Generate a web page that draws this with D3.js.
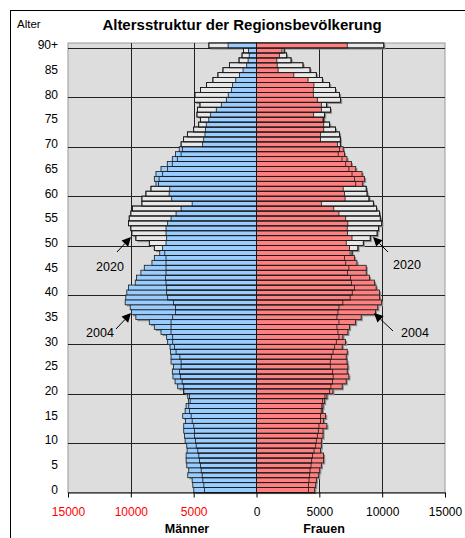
<!doctype html>
<html lang="de">
<head>
    <meta charset="utf-8">
    <title>Altersstruktur der Regionsbevölkerung</title>
    <script src="https://cdn.jsdelivr.net/npm/d3@7"></script>
    <style>
        body { margin: 0; background: #fff; }
        text { font-family: "Liberation Sans", Arial, sans-serif; }
    </style>
</head>
<body>
<script>
    // ages 0..89 and 90+ (stored as 90)
    var ages = d3.range(0, 91);

    // population per age
    var men2004 = [4990, 5070, 5120, 5470, 5390, 5550, 5600, 5600, 5520, 5550,
                   5680, 5730, 5790, 5790, 5650, 5870, 5680, 5600, 5410, 5470,
                   5790, 6270, 6480, 6650, 6700, 6600, 6800, 6800, 6850, 6880,
                   7070, 7150, 7600, 8130, 8530, 9600, 9950, 10050, 10450, 10400,
                   10320, 10190, 9650, 9550, 9200, 8930, 8320, 8130, 7700, 7470,
                   7200, 7150, 7200, 7200, 7070, 6800, 6400, 6000, 5120, 6750,
                   6950, 6900, 8000, 8130, 8000, 7600, 7100, 6700, 6450, 6150,
                   4300, 4200, 4100, 4050, 4000, 3800, 3650, 3200, 2800, 2400,
                   2250, 2000, 1900, 1650, 1350, 1070, 780, 670, 580, 640,
                   2260];
    var men2020 = [4130, 4190, 4270, 4320, 4400, 4450, 4530, 4590, 4670, 4800,
                   4850, 4930, 4930, 4990, 5120, 5200, 5330, 5390, 5280, 5330,
                   5790, 5790, 5920, 6050, 6130, 6000, 6000, 6100, 6400, 6530,
                   6670, 6670, 6800, 6800, 6800, 6670, 6450, 6450, 6600, 7070,
                   7150, 7150, 7200, 7250, 7200, 7200, 7200, 7200, 7300, 8130,
                   8530, 9600, 9920, 10000, 10190, 10130, 10000, 9870, 9120, 9120,
                   8800, 8400, 7800, 7750, 7470, 7070, 6700, 6300, 6000, 5900,
                   6000, 5800, 5500, 5000, 4600, 4450, 4740, 4700, 4500, 4930,
                   4900, 4450, 3970, 3470, 3070, 2670, 2150, 1390, 1150, 1040,
                   3790];
    var women2004 = [4630, 4710, 4760, 4950, 5030, 5160, 5340, 5340, 5100, 5160,
                     5160, 5290, 5290, 5600, 5340, 5500, 5240, 5290, 5420, 5600,
                     6080, 6820, 7140, 7350, 7220, 7270, 7200, 7140, 7220, 6820,
                     7090, 6870, 7270, 7400, 7880, 8330, 9470, 9650, 9950, 9790,
                     9790, 9520, 9390, 8990, 8730, 8730, 7990, 7800, 7450, 7400,
                     7140, 7600, 7250, 7220, 7270, 7100, 6560, 6150, 5160, 7050,
                     7000, 6900, 8450, 8600, 8400, 7900, 7550, 7200, 7000, 6900,
                     6450, 5100, 5100, 5350, 5350, 5290, 4550, 5160, 5160, 4840,
                     4520, 4520, 4570, 4100, 2970, 1720, 1650, 1620, 1820, 2030,
                     7220];
    var women2020 = [4130, 4130, 4180, 4230, 4260, 4340, 4390, 4450, 4580, 4710,
                     4760, 4840, 4920, 4970, 5100, 5100, 5150, 5200, 5260, 5450,
                     5800, 5920, 6060, 6100, 6060, 5870, 5870, 5950, 6090, 6220,
                     6350, 6560, 6480, 6400, 6560, 6400, 6480, 6560, 6870, 7450,
                     7620, 7800, 7550, 7490, 7250, 7350, 7100, 7000, 7600, 8070,
                     8500, 9050, 9600, 9700, 9970, 9850, 9780, 9550, 9300, 8950,
                     8800, 8730, 7900, 7800, 7600, 7350, 7100, 6800, 6500, 6600,
                     6670, 6670, 6610, 6290, 5820, 5350, 5420, 5880, 5580, 6690,
                     6610, 6280, 5820, 5240, 4760, 4260, 3700, 2750, 2400, 2200,
                     10130];

    var xTicks = [-15000, -10000, -5000, 0, 5000, 10000, 15000];
    var ageTicks = [0, 5, 10, 15, 20, 25, 30, 35, 40, 45, 50, 55, 60, 65, 70, 75, 80, 85, 90];

    var svgWidth = 465, svgHeight = 538;
    var plotLeft = 68, plotRight = 445, plotTop = 43, plotBottom = 492.5;

    var svg = d3.select("body").append("svg")
        .attr("width", svgWidth)
        .attr("height", svgHeight);

    // outer chart frame (cut off on the right and at the bottom)
    svg.append("rect")
        .attr("x", 10.5).attr("y", 10.5)
        .attr("width", 480).attr("height", 560)
        .attr("fill", "#fff")
        .attr("stroke", "#000");

    var x = d3.scaleLinear().domain([-15000, 15000]).range([plotLeft, plotRight]);
    var y = d3.scaleBand().domain(ages).range([plotBottom, plotTop]).padding(0);

    // plot background
    svg.append("rect")
        .attr("x", plotLeft).attr("y", plotTop)
        .attr("width", plotRight - plotLeft).attr("height", plotBottom - plotTop)
        .attr("fill", "#dddddd")
        .attr("stroke", "#999");

    // gridlines
    svg.selectAll("line.hgrid")
        .data(d3.range(10, 91, 10))
        .enter().append("line")
        .attr("class", "hgrid")
        .attr("x1", plotLeft).attr("x2", plotRight)
        .attr("y1", function(d) { return Math.round(y(d - 1)) + 0.5; })
        .attr("y2", function(d) { return Math.round(y(d - 1)) + 0.5; })
        .attr("stroke", "#222");

    svg.selectAll("line.vgrid")
        .data([-10000, -5000, 5000, 10000])
        .enter().append("line")
        .attr("class", "vgrid")
        .attr("x1", function(d) { return Math.round(x(d)) + 0.5; })
        .attr("x2", function(d) { return Math.round(x(d)) + 0.5; })
        .attr("y1", plotTop).attr("y2", plotBottom)
        .attr("stroke", "#222");

    var rows = ages.map(function(a, i) {
        return { age: a, m04: men2004[i], m20: men2020[i], f04: women2004[i], f20: women2020[i] };
    });

    var bh = y.bandwidth();
    var stroke = "#1a1a1a", sw = 0.8;

    function bar(g, from, to, fill) {
        return g.append("rect")
            .attr("x", Math.min(x(from), x(to)))
            .attr("width", Math.abs(x(to) - x(from)))
            .attr("height", bh)
            .attr("fill", fill)
            .attr("stroke", stroke)
            .attr("stroke-width", sw);
    }

    var bars = svg.append("g");

    // shadows first
    rows.forEach(function(d) {
        var g = bars.append("g").attr("transform", "translate(1.6," + (y(d.age) + 1.6) + ")");
        var m = Math.max(d.m04, d.m20), f = Math.max(d.f04, d.f20);
        g.append("rect").attr("x", x(-m)).attr("width", x(0) - x(-m)).attr("height", bh).attr("fill", "#8c8c8c");
        g.append("rect").attr("x", x(0)).attr("width", x(f) - x(0)).attr("height", bh).attr("fill", "#8c8c8c");
    });

    rows.forEach(function(d) {
        var g = bars.append("g").attr("transform", "translate(0," + y(d.age) + ")");
        // 2020 behind
        bar(g, -d.m20, 0, "#e8e8e8");
        bar(g, 0, d.f20, "#e8e8e8");
        // 2004 in front
        bar(g, -d.m04, 0, "#99ccff");
        bar(g, 0, d.f04, "#ff8080");
        // 2020 outline on top
        bar(g, -d.m20, 0, "none");
        bar(g, 0, d.f20, "none");
    });

    // x axis
    var xAxis = svg.append("g")
        .attr("transform", "translate(0," + plotBottom + ")")
        .call(d3.axisBottom(x).tickValues(xTicks)
            .tickFormat(function(d) { return Math.abs(d); })
            .tickSize(5).tickSizeOuter(0).tickPadding(10));
    xAxis.select(".domain").attr("stroke", "#000");
    xAxis.selectAll(".tick line").attr("stroke", "#000");
    xAxis.selectAll(".tick text")
        .attr("font-size", "12px")
        .attr("font-family", "Liberation Sans, Arial, sans-serif")
        .attr("fill", function(d) { return d < 0 ? "#ff0000" : "#000"; });

    // age labels
    var yAxis = svg.append("g")
        .attr("transform", "translate(" + plotLeft + ",0)")
        .call(d3.axisLeft(y).tickValues(ageTicks)
            .tickFormat(function(d) { return d === 90 ? "90+" : d; })
            .tickSize(0).tickPadding(10));
    yAxis.select(".domain").remove();
    yAxis.selectAll(".tick text")
        .attr("font-size", "12px")
        .attr("font-family", "Liberation Sans, Arial, sans-serif")
        .attr("fill", "#000");

    // titles
    svg.append("text").attr("x", 17).attr("y", 28)
        .attr("font-size", "11.5px").text("Alter");
    svg.append("text").attr("x", 242).attr("y", 30)
        .attr("text-anchor", "middle")
        .attr("font-size", "15px").attr("font-weight", "bold")
        .text("Altersstruktur der Regionsbevölkerung");
    svg.append("text").attr("x", 187).attr("y", 533)
        .attr("text-anchor", "middle")
        .attr("font-size", "12.5px").attr("font-weight", "bold")
        .text("Männer");
    svg.append("text").attr("x", 324).attr("y", 533)
        .attr("text-anchor", "middle")
        .attr("font-size", "12.5px").attr("font-weight", "bold")
        .text("Frauen");

    // arrows with year labels
    var notes = [
        { text: "2020", tx: 110, ty: 271, x1: 117, y1: 252, x2: 131, y2: 237 },
        { text: "2020", tx: 407, ty: 269, x1: 388, y1: 252, x2: 373, y2: 237 },
        { text: "2004", tx: 100, ty: 337, x1: 116, y1: 329, x2: 131, y2: 313 },
        { text: "2004", tx: 415, ty: 337, x1: 393, y1: 331, x2: 374, y2: 313 }
    ];

    notes.forEach(function(n) {
        var dx = n.x2 - n.x1, dy = n.y2 - n.y1;
        var len = Math.sqrt(dx * dx + dy * dy);
        var ux = dx / len, uy = dy / len;
        var hl = 9, hw = 4.5;
        var bx = n.x2 - ux * hl, by = n.y2 - uy * hl;
        svg.append("line")
            .attr("x1", n.x1).attr("y1", n.y1)
            .attr("x2", bx).attr("y2", by)
            .attr("stroke", "#000").attr("stroke-width", 1);
        svg.append("path")
            .attr("d", "M" + n.x2 + "," + n.y2 +
                       "L" + (bx - uy * hw) + "," + (by + ux * hw) +
                       "L" + (bx + uy * hw) + "," + (by - ux * hw) + "Z")
            .attr("fill", "#000");
        svg.append("text")
            .attr("x", n.tx).attr("y", n.ty)
            .attr("text-anchor", "middle")
            .attr("font-size", "12.5px")
            .text(n.text);
    });
</script>
</body>
</html>
